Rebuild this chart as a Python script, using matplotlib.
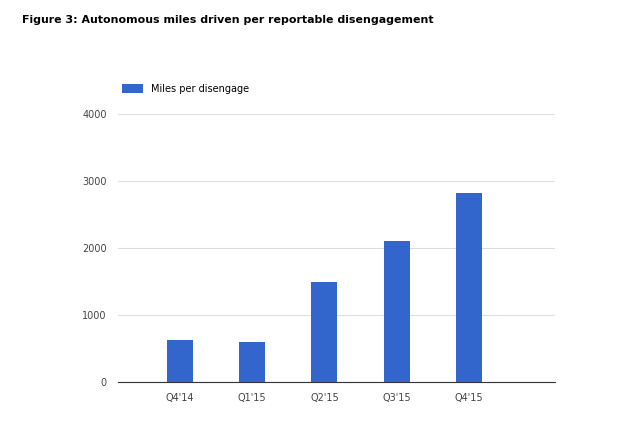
import matplotlib.pyplot as plt

quarters = ["Q4'14", "Q1'15", "Q2'15", "Q3'15", "Q4'15"]
miles = [627, 600, 1493, 2104, 2821]
yticks = [0, 1000, 2000, 3000, 4000]

fig = plt.figure(figsize=(6.2, 4.42), dpi=100)
ax = fig.add_axes([0.19, 0.136, 0.705, 0.606])
x = range(len(quarters))
ax.bar(x, miles, width=0.36, color="#3366cc", label="Miles per disengage", zorder=3)
ax.set_xlim(-0.86, 5.19)
ax.set_ylim(0, 4000)
ax.set_xticks(list(x))
ax.set_xticklabels(quarters, fontsize=7, color="#444444")
ax.set_yticks(yticks)
ax.set_yticklabels([str(v) for v in yticks], fontsize=7, color="#444444")
ax.yaxis.grid(True, color="#dddddd", linewidth=0.8, zorder=0)
for s in ["top", "right", "left"]:
    ax.spines[s].set_visible(False)
ax.spines["bottom"].set_color("#333333")
ax.tick_params(length=0, pad=8)
ax.legend(loc="lower left", bbox_to_anchor=(0.0, 1.06), frameon=False, fontsize=7,
          handlelength=2.2, handleheight=1.0, borderaxespad=0)
fig.text(0.035, 0.955, "Figure 3: Autonomous miles driven per reportable disengagement",
         fontsize=7.9, fontweight="bold", ha="left", va="center")
fig.savefig("out.png", dpi=100)
